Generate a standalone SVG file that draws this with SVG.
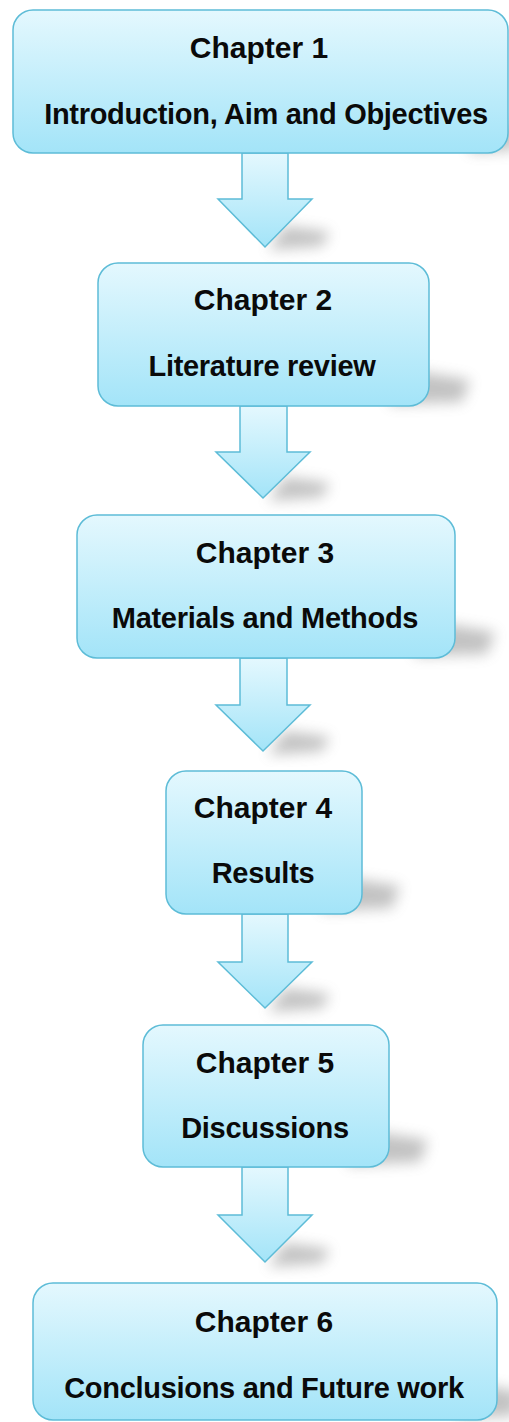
<svg xmlns="http://www.w3.org/2000/svg" width="509" height="1422" viewBox="0 0 509 1422">
  <defs>
    <linearGradient id="fillGrad" x1="0" y1="0" x2="0" y2="1">
      <stop offset="0" stop-color="#e4f8fe"/>
      <stop offset="1" stop-color="#a3e4f8"/>
    </linearGradient>
    <filter id="blur" x="-50%" y="-50%" width="200%" height="200%">
      <feGaussianBlur stdDeviation="7"/>
    </filter>
    <style>
      .box { fill: url(#fillGrad); stroke: #5dbcd7; stroke-width: 1.5; }
      .arrow { fill: url(#fillGrad); stroke: #5dbcd7; stroke-width: 1.5; stroke-linejoin: miter; }
      .shadow { fill: #707070; opacity: 0.42; filter: url(#blur); }
      .t { font-family: "Liberation Sans", Arial, sans-serif; font-weight: bold; font-size: 29px; fill: #0a0a0a; text-anchor: middle; letter-spacing: -0.3px; }
      .h { font-size: 30px; letter-spacing: 0px; }
    </style>
  </defs>

  <g id="shadows">
    <polygon class="shadow" points="470,112 520,128 515,150 470,152"/>
    <polygon class="shadow" points="390,367 470,380 462,402 390,404"/>
    <polygon class="shadow" points="415,619 495,632 487,654 415,656"/>
    <polygon class="shadow" points="322,874 400,886 392,908 322,911"/>
    <polygon class="shadow" points="348,1128 428,1140 420,1162 348,1165"/>
    <polygon class="shadow" points="458,1380 520,1392 515,1416 458,1418"/>
    <polygon class="shadow" points="285,226 330,232 322,246 268,250"/>
    <polygon class="shadow" points="285,477 330,483 322,497 268,501"/>
    <polygon class="shadow" points="285,731 330,737 322,751 268,755"/>
    <polygon class="shadow" points="285,988 330,994 322,1008 268,1012"/>
    <polygon class="shadow" points="285,1243 330,1249 322,1263 268,1267"/>
  </g>

  <g id="connectors">
    <polygon class="arrow" points="242,153 288,153 288,199 312,199 265,247 218,199 242,199"/>
    <polygon class="arrow" points="240,406 287,406 287,452 310,452 263,498 216,452 240,452"/>
    <polygon class="arrow" points="240,658 287,658 287,705 310,705 263,751 216,705 240,705"/>
    <polygon class="arrow" points="242,914 288,914 288,962 312,962 265,1008 218,962 242,962"/>
    <polygon class="arrow" points="242,1167 288,1167 288,1215 312,1215 265,1262 218,1215 242,1215"/>
  </g>

  <g id="node1">
    <rect class="box" x="13" y="10" width="495" height="143" rx="20" ry="20"/>
    <text class="t h" x="259" y="58">Chapter 1</text>
    <text class="t" x="266" y="124">Introduction, Aim and Objectives</text>
  </g>

  <g id="node2">
    <rect class="box" x="98" y="263" width="331" height="143" rx="20" ry="20"/>
    <text class="t h" x="263" y="310">Chapter 2</text>
    <text class="t" x="262" y="376">Literature review</text>
  </g>

  <g id="node3">
    <rect class="box" x="77" y="515" width="378" height="143" rx="20" ry="20"/>
    <text class="t h" x="265" y="563">Chapter 3</text>
    <text class="t" x="265" y="628">Materials and Methods</text>
  </g>

  <g id="node4">
    <rect class="box" x="166" y="771" width="196" height="143" rx="20" ry="20"/>
    <text class="t h" x="263" y="818">Chapter 4</text>
    <text class="t" x="263" y="883">Results</text>
  </g>

  <g id="node5">
    <rect class="box" x="143" y="1025" width="246" height="142" rx="20" ry="20"/>
    <text class="t h" x="265" y="1073">Chapter 5</text>
    <text class="t" x="265" y="1138">Discussions</text>
  </g>

  <g id="node6">
    <rect class="box" x="33" y="1283" width="464" height="137" rx="20" ry="20"/>
    <text class="t h" x="264" y="1332">Chapter 6</text>
    <text class="t" x="264" y="1398">Conclusions and Future work</text>
  </g>
</svg>
